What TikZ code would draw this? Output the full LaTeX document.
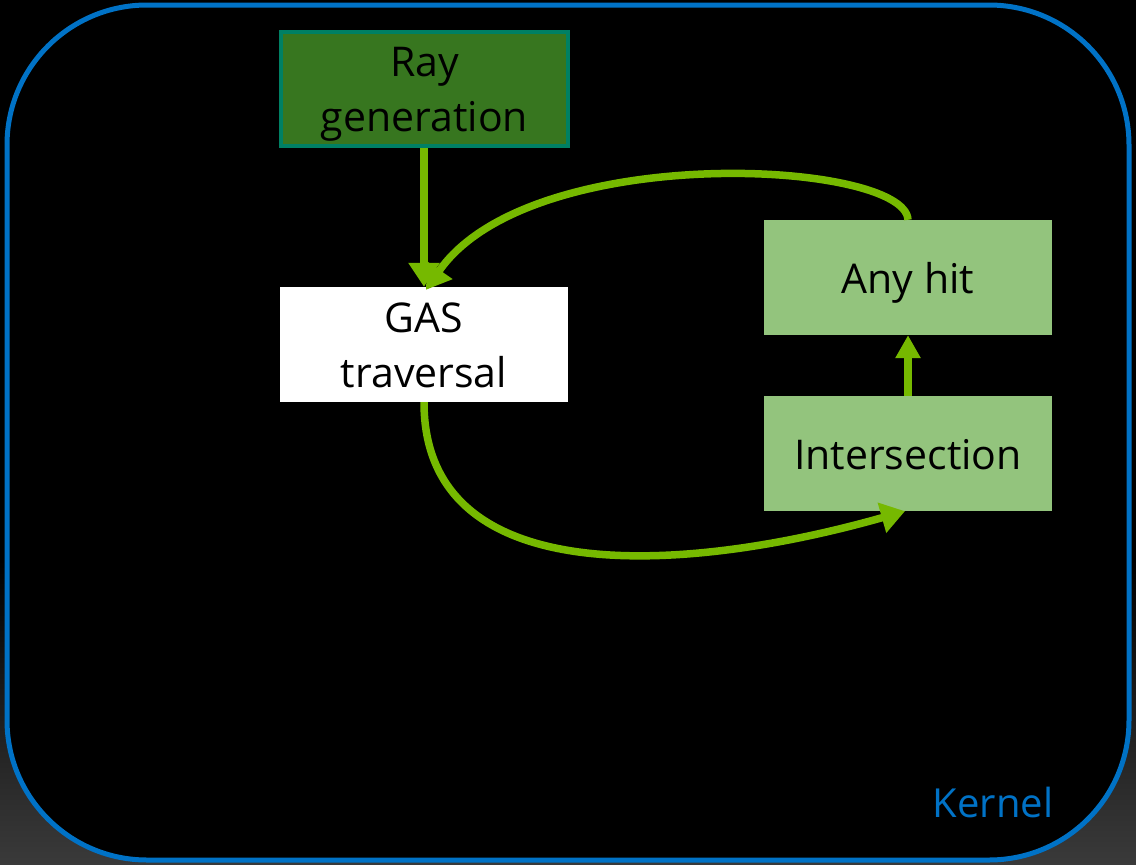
\documentclass[tikz,border=0pt]{standalone}
\usepackage{fontspec}
\setmainfont{Open Sans}
\usetikzlibrary{arrows.meta}
\definecolor{flowgreen}{RGB}{118,185,0}
\definecolor{raygreen}{RGB}{55,118,31}
\definecolor{rayedge}{RGB}{0,128,100}
\definecolor{hitgreen}{RGB}{147,196,125}
\definecolor{kernelblue}{RGB}{0,114,198}
\definecolor{floorgray}{RGB}{58,58,58}
\tikzset{
  stage/.style={rectangle, minimum width=288pt, minimum height=115pt, inner sep=0pt,
    align=center, text=black, text height=40pt, text depth=8pt,
    font=\fontsize{41}{55}\selectfont},
  twolines/.style={text height=93pt},
  flow/.style={draw=flowgreen, line width=7.5pt,
    -{Triangle[width=30pt,length=24pt]}},
  shortflow/.style={draw=flowgreen, line width=7.5pt,
    -{Triangle[width=24pt,length=23pt]}}
}
\begin{document}
\begin{tikzpicture}[x=1pt,y=-1pt]
\useasboundingbox (0,0) rectangle (1136,865);
% backdrop: black slide fading to dark gray at the bottom
\fill[black] (0,0) rectangle (1136,865);
\shade[top color=black, bottom color=floorgray] (0,560) rectangle (1136,865);
% kernel frame
\draw[kernelblue, line width=5pt, fill=black, rounded corners=140pt] (7,5) rectangle (1129,860);
\node[text=kernelblue, font=\fontsize{40}{48}\selectfont] (kernel) at (993,802) {Kernel};

% stages
\node[stage, twolines, fill=raygreen, draw=rayedge, line width=4pt, minimum width=287pt, minimum height=114pt]
  (raygen) at (424.5,89) {Ray\\generation};
\node[stage, twolines, fill=white] (gas) at (424,344.5) {GAS\\traversal};
\node[stage, fill=hitgreen] (anyhit) at (908,277.5) {Any hit};
\node[stage, fill=hitgreen] (isect) at (908,453.5) {Intersection};

% control flow
\draw[flow] (raygen.south -| gas.north) -- (gas.north);
\draw[flow] (anyhit.north) .. controls (905,160) and (530,140) .. ([xshift=2pt,yshift=-3pt]gas.north);
\draw[flow] (gas.south) .. controls (424,590) and (680,575) .. ([xshift=-3pt]isect.south);
\draw[shortflow] (isect.north) -- (anyhit.south);
\end{tikzpicture}
\end{document}
